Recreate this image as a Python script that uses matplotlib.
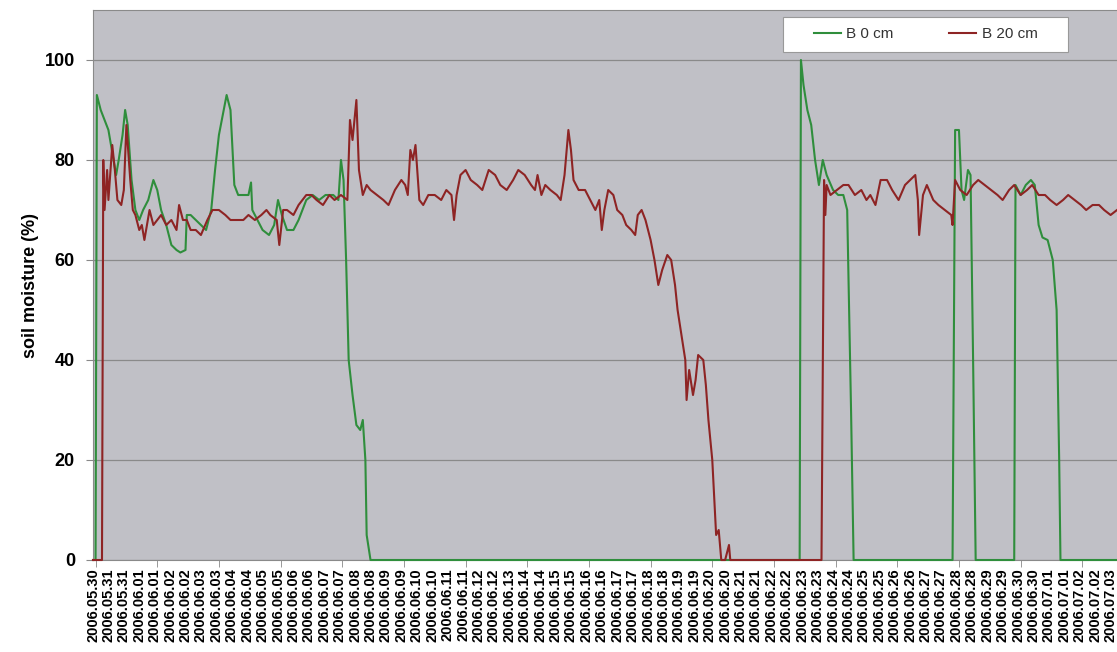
import matplotlib.pyplot as plt
from matplotlib.patches import Rectangle
import numpy as np

plt.rcParams['font.family'] = ['Liberation Sans', 'DejaVu Sans']

# record number (12 records per axis label) and soil moisture in %
g_rec = [0, 2, 3, 6, 9, 12, 16, 18, 20, 23, 25, 27, 30, 33, 36, 39, 43, 47, 50, 53,
         57, 61, 65, 68, 72, 73, 76, 80, 84, 88, 92, 95, 98, 101, 104, 107, 110, 113,
         117, 121, 123, 124, 128, 132, 137, 141, 144, 147, 151, 156, 160, 166, 171,
         176, 181, 187, 191, 193, 195, 197, 199, 202, 205, 208, 210, 212, 213, 216,
         550, 551, 553, 556, 559, 562, 565, 568, 571, 576, 580, 584, 587, 590, 592,
         669, 671, 674, 676, 678, 681, 683, 685, 687,
         717, 718, 722, 726, 730, 733, 736, 739, 743, 747, 750, 752, 753, 797]
g_val = [0, 0, 93, 90, 88, 86, 80, 77, 80, 85, 90, 87, 76, 70, 68, 70, 72, 76, 74, 70,
         67, 63, 62, 61.5, 62, 69, 69, 68, 67, 66, 70, 78, 85, 89, 93, 90, 75, 73,
         73, 73, 75.5, 70, 68, 66, 65, 67, 72, 69, 66, 66, 68, 72, 73,
         72, 73, 73, 72, 80, 76, 60, 40, 33, 27, 26, 28, 20, 5, 0,
         0, 100, 95, 90, 87, 80, 75, 80, 77, 74, 73, 73, 70, 30, 0,
         0, 86, 86, 74, 72, 78, 77, 40, 0,
         0, 75, 73, 75, 76, 75, 67, 64.5, 64, 60, 50, 20, 0, 0]

r_rec = [0, 7, 8, 9, 11, 12, 15, 17, 19, 22, 24, 26, 29, 31, 33, 36, 38, 40, 44, 47,
         50, 53, 57, 61, 65, 67, 70, 73, 76, 80, 84, 89, 93, 98, 103, 107, 112, 117,
         121, 126, 131, 135, 138, 143, 145, 148, 151, 156, 160, 166, 170, 174, 179,
         184, 188, 193, 198, 200, 202, 205, 207, 210, 213, 216, 221, 226, 230, 235,
         240, 243, 245, 247, 249, 251, 254, 257, 261, 266, 271, 275, 279, 281, 283,
         286, 290, 294, 299, 303, 308, 313, 317, 322, 327, 331, 336, 341, 344, 346,
         349, 352, 356, 361, 364, 367, 370, 372, 374, 378, 383, 387, 391, 394, 396,
         398, 401, 405, 408, 412, 415, 419, 422, 424, 427, 430, 434, 437, 440, 443,
         447, 450, 453, 455, 458, 461, 462, 464, 467, 469, 471, 475, 477, 479, 482,
         484, 485, 487, 489, 492, 495, 496,
         567, 569, 570, 571, 574, 579, 584, 588, 593, 598, 602, 605, 609, 613, 618,
         622, 627, 632, 636, 640, 642, 643, 646, 649, 654, 658, 663, 668, 669, 671,
         675, 680, 685, 689, 694, 699, 704, 708, 713, 717, 722, 727, 731, 736, 741,
         745, 750, 755, 759, 764, 769, 773, 778, 783, 787, 792, 797]
r_val = [0, 0, 80, 70, 78, 72, 83, 78, 72, 71, 74, 87, 76, 70, 69, 66, 67, 64, 70, 67,
         68, 69, 67, 68, 66, 71, 68, 68, 66, 66, 65, 68, 70, 70, 69, 68, 68, 68,
         69, 68, 69, 70, 69, 68, 63, 70, 70, 69, 71, 73, 73, 72, 71,
         73, 72, 73, 72, 88, 84, 92, 78, 73, 75, 74, 73, 72, 71, 74,
         76, 75, 73, 82, 80, 83, 72, 71, 73, 73, 72, 74, 73, 68, 73,
         77, 78, 76, 75, 74, 78, 77, 75, 74, 76, 78, 77, 75, 74, 77,
         73, 75, 74, 73, 72, 77, 86, 82, 76, 74, 74, 72, 70, 72, 66,
         70, 74, 73, 70, 69, 67, 66, 65, 69, 70, 68, 64, 60, 55, 58,
         61, 60, 55, 50, 45, 40, 32, 38, 33, 36, 41, 40, 35, 28, 20,
         10, 5, 6, 0, 0, 3, 0,
         0, 76, 69, 75, 73, 74, 75, 75, 73, 74, 72, 73, 71, 76, 76,
         74, 72, 75, 76, 77, 72, 65, 73, 75, 72, 71, 70, 69, 67, 76,
         74, 73, 75, 76, 75, 74, 73, 72, 74, 75, 73, 74, 75, 73, 73,
         72, 71, 72, 73, 72, 71, 70, 71, 71, 70, 69, 70]

# category labels as they appear on the axis (one every 12 records)
days = (['2006.05.30'] +
        [d for d in ['2006.05.31'] + ['2006.06.%02d' % i for i in range(1, 13)] for _ in range(2)] +
        ['2006.06.13'] +
        [d for d in ['2006.06.%02d' % i for i in range(14, 31)] + ['2006.07.01', '2006.07.02'] for _ in range(2)] +
        ['2006.07.03'])

fig = plt.figure(figsize=(11.17, 6.52), dpi=100)
ax = fig.add_axes([93 / 1117, 1 - 560 / 652, 1 - 93 / 1117, 550 / 652])
ax.set_facecolor('#C0C0C6')

ax.plot(g_rec, g_val, color='#2F8E3C', lw=1.5, label='B 0 cm', clip_on=False, zorder=3)
ax.plot(r_rec, r_val, color='#8E2424', lw=1.5, label='B 20 cm', clip_on=False, zorder=3)

ax.set_ylim(0, 110)
ax.set_xlim(0, 797)
ax.set_yticks(range(0, 101, 20))
ax.yaxis.grid(True, color='#8A8A8A', lw=0.9)
ax.set_axisbelow(True)
for lbl in ax.get_yticklabels():
    lbl.set_fontweight('bold')
ax.tick_params(axis='y', labelsize=13, length=5, color='#888888', pad=8)
ax.set_ylabel('soil moisture (%)', fontsize=13, fontweight='bold', labelpad=4)

ax.set_xticks(np.arange(len(days)) * 12)
ax.set_xticklabels(days, rotation=90, fontsize=10.5, fontweight='bold')
ax.set_xticks(np.arange(2, 797, 48), minor=True)
ax.tick_params(axis='x', which='major', length=0, pad=6)
ax.tick_params(axis='x', which='minor', length=5, color='#888888')

for s in ['left', 'top', 'bottom']:
    ax.spines[s].set_color('#8A8A8A')
ax.spines['right'].set_visible(False)

# legend box
ax.add_patch(Rectangle((0.674, 0.924), 0.278, 0.063, transform=ax.transAxes,
                       facecolor='white', edgecolor='#999999', lw=0.8, zorder=5))
ax.legend(loc='center', ncol=2, fontsize=11, frameon=False,
          bbox_to_anchor=(0.674 + 0.278 / 2, 0.924 + 0.063 / 2),
          handlelength=1.8, handletextpad=0.35, columnspacing=3.6,
          labelcolor='#333333', borderaxespad=0).set_zorder(6)

fig.savefig('out.png', dpi=100)
